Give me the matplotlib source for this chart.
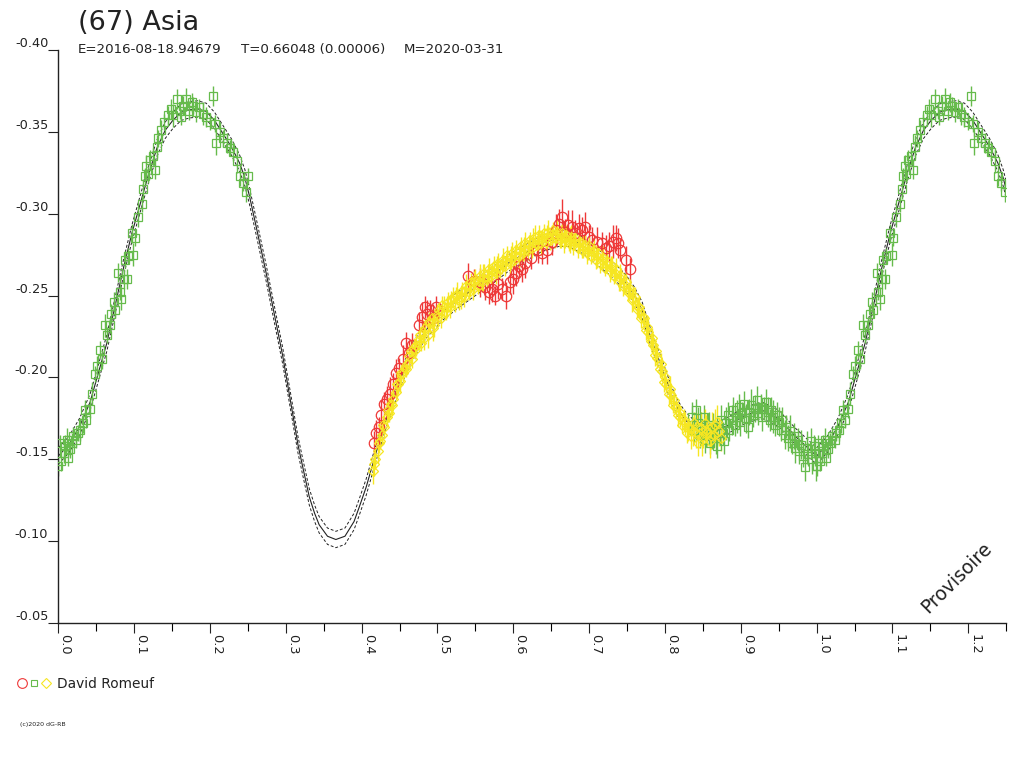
import matplotlib

matplotlib.use("Agg")
import matplotlib.pyplot as plt
import numpy as np
from matplotlib.lines import Line2D

# Fourier model (one rotation)
MODEL_PHASE = [
    0.000, 0.014, 0.028, 0.042, 0.053, 0.064, 0.075, 0.086, 0.097, 0.108,
    0.119, 0.130, 0.141, 0.151, 0.162, 0.173, 0.184, 0.195, 0.206, 0.217,
    0.228, 0.239, 0.246, 0.252, 0.261, 0.274, 0.283, 0.296, 0.309, 0.316,
    0.322, 0.331, 0.338, 0.344, 0.355, 0.366, 0.378, 0.390, 0.397, 0.406,
    0.414, 0.419, 0.430, 0.441, 0.452, 0.463, 0.474, 0.485, 0.507, 0.529,
    0.550, 0.572, 0.594, 0.616, 0.638, 0.660, 0.673, 0.690, 0.704, 0.726,
    0.748, 0.760, 0.770, 0.783, 0.796, 0.809, 0.818, 0.827, 0.840, 0.862,
    0.884, 0.906, 0.928, 0.950, 0.972, 0.993, 1.000,
]
MODEL_MAG = [
    -0.152, -0.159, -0.170, -0.185, -0.203, -0.221, -0.244, -0.267, -0.288, -0.306,
    -0.324, -0.340, -0.351, -0.357, -0.362, -0.3635, -0.364, -0.3625, -0.357, -0.349,
    -0.341, -0.331, -0.322, -0.311, -0.292, -0.264, -0.243, -0.213, -0.178, -0.159,
    -0.146, -0.127, -0.117, -0.110, -0.103, -0.101, -0.103, -0.112, -0.121, -0.133,
    -0.146, -0.154, -0.171, -0.186, -0.200, -0.212, -0.221, -0.229, -0.240, -0.248,
    -0.255, -0.262, -0.270, -0.276, -0.282, -0.285, -0.285, -0.281, -0.276, -0.268,
    -0.258, -0.250, -0.241, -0.222, -0.206, -0.189, -0.180, -0.174, -0.168, -0.166,
    -0.171, -0.177, -0.180, -0.175, -0.164, -0.155, -0.152,
]
MODEL_SPREAD = 0.005

# session 1 (green squares), phases 0.00 - 0.25
GREEN_A_PHASE = [
    0.000, 0.002, 0.007, 0.011, 0.015, 0.020, 0.024, 0.029, 0.035, 0.037,
    0.042, 0.044, 0.048, 0.051, 0.055, 0.057, 0.061, 0.068, 0.070, 0.075,
    0.079, 0.081, 0.083, 0.086, 0.088, 0.090, 0.092, 0.097, 0.099, 0.101,
    0.105, 0.110, 0.112, 0.114, 0.116, 0.121, 0.125, 0.127, 0.130, 0.132,
    0.136, 0.140, 0.145, 0.151, 0.156, 0.160, 0.165, 0.169, 0.173, 0.178,
    0.182, 0.186, 0.191, 0.195, 0.200, 0.204, 0.206, 0.208, 0.213, 0.217,
    0.222, 0.226, 0.230, 0.235, 0.239, 0.243, 0.248, 0.250, 0.004, 0.009,
    0.013, 0.018, 0.026, 0.032, 0.064, 0.073, 0.118, 0.148, 0.162, 0.176,
]
GREEN_A_MAG = [
    -0.146, -0.160, -0.154, -0.162, -0.156, -0.164, -0.162, -0.168, -0.180, -0.174,
    -0.181, -0.190, -0.202, -0.207, -0.217, -0.211, -0.232, -0.232, -0.239, -0.241,
    -0.264, -0.252, -0.248, -0.260, -0.272, -0.260, -0.274, -0.288, -0.275, -0.285,
    -0.298, -0.306, -0.315, -0.323, -0.329, -0.333, -0.335, -0.327, -0.341, -0.346,
    -0.351, -0.356, -0.360, -0.360, -0.370, -0.363, -0.366, -0.370, -0.363, -0.366,
    -0.362, -0.365, -0.361, -0.359, -0.356, -0.372, -0.355, -0.343, -0.350, -0.346,
    -0.343, -0.340, -0.338, -0.332, -0.323, -0.319, -0.313, -0.323, -0.149, -0.158,
    -0.151, -0.160, -0.166, -0.172, -0.226, -0.246, -0.324, -0.364, -0.359, -0.368,
]
GREEN_A_ERR = [
    0.006, 0.005, 0.006, 0.007, 0.005, 0.006, 0.005, 0.007, 0.006, 0.005,
    0.006, 0.007, 0.005, 0.006, 0.005, 0.006, 0.007, 0.005, 0.006, 0.005,
    0.006, 0.005, 0.007, 0.006, 0.005, 0.006, 0.005, 0.006, 0.007, 0.005,
    0.006, 0.005, 0.006, 0.005, 0.007, 0.006, 0.005, 0.006, 0.007, 0.005,
    0.006, 0.005, 0.006, 0.007, 0.006, 0.005, 0.006, 0.007, 0.006, 0.005,
    0.006, 0.005, 0.007, 0.006, 0.005, 0.006, 0.005, 0.007, 0.006, 0.005,
    0.006, 0.005, 0.006, 0.007, 0.006, 0.005, 0.006, 0.005, 0.006, 0.007,
    0.005, 0.006, 0.005, 0.006, 0.005, 0.006, 0.005, 0.006, 0.005, 0.006,
]

# session 1 (green squares), phases 0.83 - 1.00
GREEN_B_PHASE = [
    0.836, 0.838, 0.841, 0.843, 0.846, 0.848, 0.851, 0.853, 0.855, 0.858,
    0.860, 0.862, 0.864, 0.867, 0.869, 0.871, 0.874, 0.876, 0.878, 0.881,
    0.883, 0.885, 0.888, 0.890, 0.892, 0.895, 0.897, 0.899, 0.902, 0.904,
    0.907, 0.909, 0.911, 0.914, 0.916, 0.919, 0.921, 0.923, 0.926, 0.928,
    0.931, 0.933, 0.936, 0.938, 0.940, 0.943, 0.945, 0.948, 0.950, 0.953,
    0.955, 0.958, 0.960, 0.962, 0.965, 0.967, 0.970, 0.972, 0.975, 0.977,
    0.980, 0.982, 0.985, 0.987, 0.989, 0.992, 0.994, 0.996, 0.998, 0.9995,
]
GREEN_B_MAG = [
    -0.176, -0.168, -0.180, -0.172, -0.165, -0.170, -0.176, -0.162, -0.168, -0.171,
    -0.160, -0.165, -0.170, -0.163, -0.158, -0.167, -0.174, -0.166, -0.161, -0.172,
    -0.177, -0.168, -0.174, -0.180, -0.171, -0.176, -0.182, -0.173, -0.178, -0.184,
    -0.175, -0.170, -0.179, -0.183, -0.177, -0.181, -0.186, -0.178, -0.182, -0.176,
    -0.181, -0.185, -0.179, -0.174, -0.180, -0.176, -0.171, -0.177, -0.173, -0.168,
    -0.174, -0.165, -0.170, -0.163, -0.167, -0.160, -0.164, -0.157, -0.162, -0.155,
    -0.159, -0.152, -0.145, -0.157, -0.153, -0.161, -0.150, -0.158, -0.154, -0.146,
]
GREEN_B_ERR = [
    0.009, 0.008, 0.007, 0.010, 0.008, 0.009, 0.007, 0.008, 0.010, 0.008,
    0.007, 0.009, 0.008, 0.010, 0.007, 0.008, 0.009, 0.007, 0.008, 0.010,
    0.008, 0.007, 0.009, 0.008, 0.007, 0.010, 0.008, 0.009, 0.007, 0.008,
    0.009, 0.007, 0.008, 0.010, 0.007, 0.008, 0.009, 0.007, 0.008, 0.009,
    0.007, 0.008, 0.009, 0.007, 0.008, 0.010, 0.007, 0.008, 0.009, 0.007,
    0.008, 0.009, 0.007, 0.008, 0.010, 0.007, 0.008, 0.009, 0.007, 0.008,
    0.009, 0.007, 0.008, 0.010, 0.007, 0.008, 0.009, 0.007, 0.008, 0.009,
]

# session 2 (red circles)
RED_PHASE = [
    0.416, 0.419, 0.423, 0.426, 0.430, 0.434, 0.437, 0.441, 0.445, 0.449,
    0.454, 0.458, 0.462, 0.466, 0.476, 0.480, 0.483, 0.486, 0.490, 0.494,
    0.498, 0.540, 0.548, 0.556, 0.563, 0.568, 0.572, 0.576, 0.580, 0.585,
    0.590, 0.595, 0.599, 0.603, 0.607, 0.612, 0.616, 0.624, 0.632, 0.638,
    0.645, 0.651, 0.656, 0.660, 0.664, 0.668, 0.672, 0.677, 0.681, 0.686,
    0.691, 0.695, 0.700, 0.704, 0.710, 0.717, 0.722, 0.726, 0.731, 0.735,
    0.738, 0.741, 0.748, 0.754,
]
RED_MAG = [
    -0.160, -0.166, -0.170, -0.177, -0.184, -0.187, -0.190, -0.196, -0.203, -0.206,
    -0.211, -0.221, -0.215, -0.220, -0.232, -0.237, -0.243, -0.239, -0.241, -0.236,
    -0.243, -0.262, -0.259, -0.258, -0.255, -0.252, -0.254, -0.250, -0.257, -0.254,
    -0.250, -0.258, -0.260, -0.264, -0.268, -0.266, -0.270, -0.273, -0.278, -0.276,
    -0.278, -0.283, -0.290, -0.294, -0.298, -0.289, -0.293, -0.292, -0.288, -0.291,
    -0.290, -0.292, -0.286, -0.284, -0.283, -0.282, -0.279, -0.280, -0.283, -0.285,
    -0.282, -0.278, -0.272, -0.266,
]
RED_ERR = [
    0.007, 0.008, 0.006, 0.009, 0.007, 0.008, 0.010, 0.007, 0.008, 0.006,
    0.009, 0.007, 0.008, 0.007, 0.008, 0.009, 0.007, 0.008, 0.006, 0.009,
    0.007, 0.008, 0.007, 0.009, 0.008, 0.007, 0.008, 0.006, 0.009, 0.007,
    0.008, 0.007, 0.009, 0.008, 0.007, 0.008, 0.009, 0.007, 0.008, 0.007,
    0.009, 0.008, 0.010, 0.009, 0.011, 0.008, 0.009, 0.010, 0.008, 0.009,
    0.008, 0.009, 0.007, 0.008, 0.009, 0.007, 0.008, 0.009, 0.010, 0.008,
    0.009, 0.007, 0.008, 0.007,
]

# session 3 (yellow diamonds)
YELLOW_PHASE = [
    0.415, 0.418, 0.421, 0.424, 0.427, 0.430, 0.433, 0.436, 0.439, 0.442,
    0.445, 0.448, 0.451, 0.454, 0.457, 0.460, 0.463, 0.466, 0.469, 0.472,
    0.475, 0.478, 0.481, 0.484, 0.487, 0.490, 0.493, 0.496, 0.499, 0.502,
    0.505, 0.508, 0.511, 0.514, 0.517, 0.520, 0.523, 0.526, 0.529, 0.532,
    0.535, 0.538, 0.541, 0.544, 0.547, 0.550, 0.553, 0.556, 0.559, 0.562,
    0.565, 0.568, 0.571, 0.574, 0.577, 0.580, 0.583, 0.586, 0.589, 0.592,
    0.595, 0.598, 0.601, 0.604, 0.607, 0.610, 0.613, 0.616, 0.619, 0.622,
    0.625, 0.628, 0.631, 0.634, 0.637, 0.640, 0.643, 0.646, 0.649, 0.652,
    0.655, 0.658, 0.661, 0.664, 0.667, 0.670, 0.673, 0.676, 0.679, 0.682,
    0.685, 0.688, 0.691, 0.694, 0.697, 0.700, 0.703, 0.706, 0.709, 0.712,
    0.715, 0.718, 0.721, 0.724, 0.727, 0.730, 0.733, 0.736, 0.739, 0.742,
    0.745, 0.748, 0.751, 0.754, 0.757, 0.760, 0.763, 0.766, 0.769, 0.772,
    0.775, 0.778, 0.781, 0.784, 0.787, 0.790, 0.793, 0.796, 0.799, 0.802,
    0.805, 0.808, 0.811, 0.814, 0.817, 0.820, 0.823, 0.826, 0.829, 0.832,
    0.835, 0.838, 0.841, 0.844, 0.847, 0.850, 0.853, 0.856, 0.859, 0.862,
    0.865, 0.868, 0.871, 0.874,
    0.4165, 0.4225, 0.4285, 0.4345, 0.4405, 0.4465, 0.4525, 0.4585, 0.4645, 0.4705,
    0.4765, 0.4825, 0.4885, 0.4945, 0.5005, 0.5065, 0.5125, 0.5185, 0.5245, 0.5305,
    0.5365, 0.5425, 0.5485, 0.5545, 0.5605, 0.5665, 0.5725, 0.5785, 0.5845, 0.5905,
    0.5965, 0.6025, 0.6085, 0.6145, 0.6205, 0.6265, 0.6325, 0.6385, 0.6445, 0.6505,
    0.6565, 0.6625, 0.6685, 0.6745, 0.6805, 0.6865, 0.6925, 0.6985, 0.7045, 0.7105,
    0.7165, 0.7225, 0.7285, 0.7345, 0.7405, 0.7465, 0.7525, 0.7585, 0.7645, 0.7705,
    0.7765, 0.7825, 0.7885, 0.7945, 0.8005, 0.8065, 0.8125, 0.8185, 0.8245, 0.8305,
    0.8365, 0.8425, 0.8485, 0.8545, 0.8605, 0.8665,
]
YELLOW_MAG = [
    -0.143, -0.150, -0.155, -0.161, -0.165, -0.170, -0.176, -0.178, -0.184, -0.187,
    -0.191, -0.196, -0.198, -0.203, -0.206, -0.208, -0.213, -0.211, -0.218, -0.220,
    -0.223, -0.221, -0.228, -0.230, -0.226, -0.233, -0.236, -0.232, -0.238, -0.241,
    -0.236, -0.243, -0.240, -0.246, -0.243, -0.249, -0.245, -0.251, -0.247, -0.253,
    -0.249, -0.256, -0.252, -0.258, -0.254, -0.260, -0.256, -0.262, -0.258, -0.264,
    -0.260, -0.266, -0.262, -0.268, -0.264, -0.270, -0.266, -0.272, -0.268, -0.275,
    -0.270, -0.276, -0.272, -0.278, -0.274, -0.280, -0.276, -0.282, -0.278, -0.284,
    -0.279, -0.286, -0.281, -0.287, -0.282, -0.288, -0.283, -0.289, -0.284, -0.290,
    -0.285, -0.289, -0.284, -0.288, -0.283, -0.287, -0.282, -0.286, -0.281, -0.285,
    -0.279, -0.283, -0.278, -0.281, -0.276, -0.280, -0.274, -0.278, -0.272, -0.276,
    -0.270, -0.273, -0.267, -0.271, -0.265, -0.268, -0.262, -0.266, -0.259, -0.262,
    -0.256, -0.258, -0.252, -0.254, -0.247, -0.249, -0.242, -0.243, -0.236, -0.236,
    -0.229, -0.228, -0.222, -0.220, -0.214, -0.212, -0.205, -0.204, -0.197, -0.196,
    -0.190, -0.189, -0.183, -0.182, -0.177, -0.176, -0.171, -0.172, -0.166, -0.170,
    -0.164, -0.172, -0.166, -0.160, -0.169, -0.164, -0.172, -0.166, -0.161, -0.170,
    -0.165, -0.173, -0.167, -0.163,
    -0.147, -0.160, -0.171, -0.180, -0.183, -0.196, -0.203, -0.205, -0.216, -0.217,
    -0.226, -0.224, -0.234, -0.230, -0.237, -0.244, -0.243, -0.247, -0.250, -0.249,
    -0.253, -0.255, -0.258, -0.259, -0.261, -0.263, -0.265, -0.267, -0.269, -0.271,
    -0.273, -0.275, -0.277, -0.279, -0.281, -0.283, -0.284, -0.285, -0.286, -0.287,
    -0.287, -0.286, -0.285, -0.284, -0.283, -0.282, -0.280, -0.278, -0.277, -0.274,
    -0.272, -0.269, -0.267, -0.264, -0.261, -0.257, -0.253, -0.248, -0.243, -0.237,
    -0.231, -0.224, -0.216, -0.208, -0.200, -0.193, -0.186, -0.179, -0.174, -0.169,
    -0.167, -0.170, -0.162, -0.168, -0.164, -0.171,
]
YELLOW_ERR = [
    0.008, 0.006, 0.007, 0.005, 0.006, 0.007, 0.006, 0.005, 0.007, 0.006,
    0.005, 0.006, 0.007, 0.006, 0.005, 0.006, 0.007, 0.005, 0.006, 0.007,
    0.006, 0.005, 0.007, 0.006, 0.008, 0.006, 0.005, 0.007, 0.006, 0.005,
    0.006, 0.007, 0.005, 0.006, 0.007, 0.006, 0.005, 0.007, 0.006, 0.005,
    0.006, 0.007, 0.005, 0.006, 0.007, 0.006, 0.005, 0.007, 0.006, 0.005,
    0.006, 0.007, 0.005, 0.006, 0.007, 0.006, 0.005, 0.007, 0.006, 0.005,
    0.006, 0.007, 0.005, 0.006, 0.007, 0.006, 0.005, 0.007, 0.006, 0.005,
    0.006, 0.007, 0.005, 0.006, 0.007, 0.006, 0.005, 0.007, 0.006, 0.005,
    0.006, 0.007, 0.005, 0.006, 0.007, 0.006, 0.005, 0.007, 0.006, 0.005,
    0.006, 0.007, 0.005, 0.006, 0.007, 0.006, 0.005, 0.007, 0.006, 0.005,
    0.006, 0.007, 0.005, 0.006, 0.007, 0.006, 0.005, 0.007, 0.006, 0.005,
    0.006, 0.007, 0.005, 0.006, 0.007, 0.006, 0.005, 0.007, 0.006, 0.005,
    0.006, 0.007, 0.005, 0.006, 0.007, 0.006, 0.005, 0.007, 0.006, 0.005,
    0.006, 0.007, 0.005, 0.006, 0.007, 0.006, 0.005, 0.007, 0.006, 0.005,
    0.008, 0.007, 0.009, 0.008, 0.010, 0.007, 0.009, 0.008, 0.010, 0.009,
    0.008, 0.010, 0.009, 0.008,
    0.007, 0.006, 0.005, 0.007, 0.006, 0.008, 0.006, 0.005, 0.007, 0.006,
    0.005, 0.007, 0.006, 0.008, 0.005, 0.006, 0.007, 0.006, 0.005, 0.007,
    0.006, 0.005, 0.007, 0.006, 0.008, 0.006, 0.005, 0.007, 0.006, 0.005,
    0.007, 0.006, 0.005, 0.007, 0.006, 0.008, 0.006, 0.005, 0.007, 0.006,
    0.005, 0.007, 0.006, 0.008, 0.005, 0.006, 0.007, 0.006, 0.005, 0.007,
    0.006, 0.005, 0.007, 0.006, 0.008, 0.006, 0.005, 0.007, 0.006, 0.005,
    0.007, 0.006, 0.005, 0.007, 0.006, 0.008, 0.006, 0.005, 0.007, 0.008,
    0.009, 0.008, 0.010, 0.009, 0.008, 0.010,
]

X_MAJOR = [0.0, 0.1, 0.2, 0.3, 0.4, 0.5, 0.6, 0.7, 0.8, 0.9, 1.0, 1.1, 1.2]
X_MINOR = [0.05, 0.15, 0.25, 0.35, 0.45, 0.55, 0.65, 0.75, 0.85, 0.95, 1.05, 1.15, 1.25]
Y_TICKS = [-0.40, -0.35, -0.30, -0.25, -0.20, -0.15, -0.10, -0.05]

TITLE = "(67) Asia"
SUB_E = "E=2016-08-18.94679"
SUB_T = "T=0.66048 (0.00006)"
SUB_M = "M=2020-03-31"
OBSERVER = "David Romeuf"

GREEN = "#66bb4c"
RED = "#ee3838"
YELLOW = "#f6e622"
INK = "#222222"

X_END = 1.25  # phase range shown (data repeated past 1.0)

fig = plt.figure(figsize=(10.24, 7.68), dpi=100)
ax = fig.add_axes([58.3 / 1024, 145 / 768, (1006.2 - 58.3) / 1024, 573 / 768])

# model curve, repeated over the extra 0.25 of phase
mph = np.asarray(MODEL_PHASE)
mmag = np.asarray(MODEL_MAG)
wrap = mph <= X_END - 1 + 0.02
mph_full = np.concatenate([mph, mph[wrap] + 1.0])
mmag_full = np.concatenate([mmag, mmag[wrap]])
ax.plot(mph_full, mmag_full, color=INK, lw=0.8, zorder=1)
for sgn in (-1, 1):
    ax.plot(mph_full, mmag_full + sgn * MODEL_SPREAD, color=INK, lw=0.7,
            ls=(0, (3, 2)), zorder=1)


def draw_session(phase, mag, err, color, marker, ms):
    phase = np.asarray(phase)
    mag = np.asarray(mag)
    err = np.asarray(err)
    rep = phase < X_END - 1
    phase = np.concatenate([phase, phase[rep] + 1.0])
    mag = np.concatenate([mag, mag[rep]])
    err = np.concatenate([err, err[rep]])
    ax.errorbar(phase, mag, yerr=err, fmt="none", ecolor=color, elinewidth=1.0,
                capsize=0, zorder=2)
    ax.plot(phase, mag, ls="none", marker=marker, ms=ms, mfc="none", mec=color,
            mew=0.9, zorder=3)


draw_session(GREEN_A_PHASE, GREEN_A_MAG, GREEN_A_ERR, GREEN, "s", 5.5)
draw_session(GREEN_B_PHASE, GREEN_B_MAG, GREEN_B_ERR, GREEN, "s", 5.5)
draw_session(RED_PHASE, RED_MAG, RED_ERR, RED, "o", 7.5)
draw_session(YELLOW_PHASE, YELLOW_MAG, YELLOW_ERR, YELLOW, "D", 5.5)

ax.set_xlim(0, X_END)
ax.set_ylim(-0.05, -0.40)
for side in ("top", "right"):
    ax.spines[side].set_visible(False)
for side in ("left", "bottom"):
    ax.spines[side].set_linewidth(1.0)
    ax.spines[side].set_color(INK)

ax.set_yticks(Y_TICKS, [f"{v:.2f}" for v in Y_TICKS])
ax.tick_params(axis="y", length=7.2, width=0.8, pad=0, labelsize=9.3, colors=INK)
plt.setp(ax.get_yticklabels(), va="bottom", ha="right")

ax.set_xticks(X_MAJOR, [f"{v:.1f}" for v in X_MAJOR])
ax.set_xticks(X_MINOR, minor=True)
ax.tick_params(axis="x", which="major", length=7.2, width=0.8, pad=0.5,
               labelsize=9.3, colors=INK)
ax.tick_params(axis="x", which="minor", length=5.8, width=0.8)
plt.setp(ax.get_xticklabels(), rotation=-90, rotation_mode="anchor",
         ha="left", va="bottom")

ax.text(957 / 1024, 1 - 578 / 768, "Provisoire", transform=fig.transFigure,
        rotation=45, ha="center", va="center", fontsize=13.5, color=INK)

# header
fig.text(78 / 1024, 1 - 30 / 768, TITLE, fontsize=19.5, color=INK, va="baseline")
for xpx, s in ((78, SUB_E), (241, SUB_T), (404, SUB_M)):
    fig.text(xpx / 1024, 1 - 53 / 768, s, fontsize=9.6, color=INK, va="baseline")

# observer key
for xpx, mk, col, size in ((22, "o", RED, 7), (34, "s", GREEN, 4.5), (46, "D", YELLOW, 5)):
    fig.add_artist(Line2D([xpx / 1024], [1 - 683 / 768], marker=mk, ms=size,
                          mfc="none", mec=col, mew=0.8, ls="none",
                          transform=fig.transFigure))
fig.text(57 / 1024, 1 - 687.5 / 768, OBSERVER, fontsize=9.9, color=INK, va="baseline")
fig.text(20 / 1024, 1 - 726 / 768, "(c)2020 dG-RB", fontsize=4.5, color=INK,
         va="baseline")

fig.savefig("out.png", dpi=100)
